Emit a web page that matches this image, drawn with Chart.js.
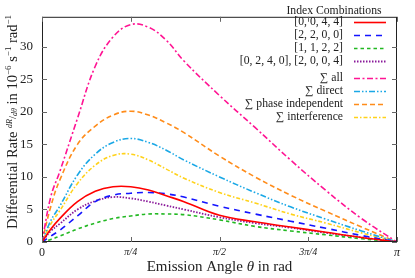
<!DOCTYPE html>
<html>
<head>
<meta charset="utf-8">
<script src="https://cdn.jsdelivr.net/npm/chart.js@4.4.1/dist/chart.umd.min.js"></script>
<style>
  html, body { margin: 0; padding: 0; background: #fff; }
  #wrap { width: 415px; height: 278px; position: relative; }
</style>
</head>
<body>
<div id="wrap"><canvas id="chart" width="415" height="278"></canvas></div>
<script>
// ── data (theta in units of pi, rates in 1e-6 s^-1 rad^-1) ───────────────────
const thetaPi = [0, 0.025, 0.05, 0.1, 0.15, 0.2, 0.25, 0.3, 0.35, 0.4, 0.5, 0.6, 0.7, 0.8, 0.9, 1.0];

const rate0044   = [0, 2.0, 3.6, 6.2, 7.8, 8.5, 8.5, 8.0, 7.1, 6.2, 4.1, 3.1, 2.3, 1.5, 0.7, 0];
const rate2200   = [0, 0.9, 1.8, 4.0, 6.2, 7.2, 7.5, 7.6, 7.4, 6.9, 5.5, 4.3, 3.2, 2.1, 1.0, 0];
const rate1122   = [0, 0.4, 0.9, 2.0, 2.9, 3.6, 4.0, 4.3, 4.3, 4.2, 3.4, 2.4, 1.7, 1.1, 0.5, 0];
const rate0240   = [0, 1.7, 2.8, 5.0, 6.3, 6.9, 6.7, 6.2, 5.6, 5.0, 3.8, 2.9, 2.2, 1.4, 0.7, 0];
const sumAll     = [0, 7.0, 10.8, 19.0, 27.0, 31.5, 33.4, 33.0, 31.0, 27.8, 22.5, 17.6, 12.6, 7.9, 3.6, 0];
const sumDirect  = [0, 3.3, 5.5, 10.3, 13.5, 15.3, 15.9, 15.3, 14.1, 12.6, 10.0, 7.6, 5.4, 3.5, 1.7, 0];
const sumPhase   = [0, 5.5, 9.5, 15.0, 17.8, 19.5, 20.1, 19.5, 18.3, 16.8, 13.2, 10.0, 7.2, 4.7, 2.3, 0];
const sumInterf  = [0, 2.8, 4.8, 9.0, 11.8, 13.3, 13.5, 12.6, 11.2, 9.8, 7.6, 6.0, 4.3, 2.9, 1.4, 0];

const xTickPi    = [0, 0.25, 0.5, 0.75, 1];
const xTickText  = ["0", "\u03c0/4", "\u03c0/2", "3\u03c0/4", "\u03c0"];
const yTicks     = [0, 5, 10, 15, 20, 25, 30];

const C = {
    red: "#ff0000", blue: "#1414ff", green: "#22b822", purple: "#8a1a9a",
    magenta: "#ff1493", cyan: "#1aa8e6", orange: "#ff8c1a", yellow: "#ffd21a",
    frame: "#222",
};
const SERIF = "'Liberation Serif', 'DejaVu Serif', serif";

function series(label, data, color, dash, width) {
    return {
        label,
        data: data.map((v, i) => ({ x: thetaPi[i] * Math.PI, y: v })),
        borderColor: color,
        borderDash: dash,
        borderWidth: width || 1.6,
        pointRadius: 0,
        tension: 0.4,
        fill: false,
    };
}

const datasets = [
    series("[0, 0, 4, 4]",               rate0044,  C.red,     []),
    series("[2, 2, 0, 0]",               rate2200,  C.blue,    [6, 5]),
    series("[1, 1, 2, 2]",               rate1122,  C.green,   [3.5, 3]),
    series("[0, 2, 4, 0], [2, 0, 0, 4]", rate0240,  C.purple,  [1.5, 1.5], 1.8),
    series("\u2211 all",                 sumAll,    C.magenta, [6, 2.5, 2, 2.5]),
    series("\u2211 direct",              sumDirect, C.cyan,    [6, 2, 1.5, 2, 1.5, 2]),
    series("\u2211 phase independent",   sumPhase,  C.orange,  [5, 3]),
    series("\u2211 interference",        sumInterf, C.yellow,  [4, 2, 1.5, 2]),
];

// ── frame, mirrored inward ticks, titles, legend ─────────────────────────────
const decor = {
    id: "decor",
    afterDraw(chart) {
        const { ctx, chartArea: a, scales } = chart;
        ctx.save();
        ctx.strokeStyle = C.frame;
        ctx.lineWidth = 1;
        ctx.strokeRect(a.left + 0.5, a.top + 0.5, a.right - a.left - 1, a.bottom - a.top - 1);

        ctx.strokeStyle = "#666";
        scales.x.ticks.forEach((t) => {
            const px = Math.round(scales.x.getPixelForValue(t.value)) + 0.5;
            ctx.beginPath();
            ctx.moveTo(px, a.bottom); ctx.lineTo(px, a.bottom - 5);
            ctx.moveTo(px, a.top);    ctx.lineTo(px, a.top + 5);
            ctx.stroke();
        });
        scales.y.ticks.forEach((t) => {
            const py = Math.round(scales.y.getPixelForValue(t.value)) + 0.5;
            ctx.beginPath();
            ctx.moveTo(a.left, py);  ctx.lineTo(a.left + 5, py);
            ctx.moveTo(a.right, py); ctx.lineTo(a.right - 5, py);
            ctx.stroke();
        });

        // x title
        ctx.fillStyle = "#222";
        ctx.textBaseline = "alphabetic";
        const xParts = [
            { t: "Emission Angle ", f: "15px " + SERIF },
            { t: "\u03b8", f: "italic 15px " + SERIF },
            { t: " in rad", f: "15px " + SERIF },
        ];
        let w = 0;
        xParts.forEach((p) => { ctx.font = p.f; w += ctx.measureText(p.t).width; });
        let cx = (a.left + a.right) / 2 - w / 2;
        xParts.forEach((p) => { ctx.font = p.f; ctx.fillText(p.t, cx, 271); cx += ctx.measureText(p.t).width; });

        // y title, rotated
        const yParts = [
            { t: "Differential Rate ", f: "14.5px " + SERIF, dy: 0 },
            { t: "dR", f: "italic 8px " + SERIF, dy: -5 },
            { t: "/", f: "11px " + SERIF, dy: -1 },
            { t: "d\u03b8", f: "italic 8px " + SERIF, dy: 0 },
            { t: " in 10", f: "14.5px " + SERIF, dy: 0 },
            { t: "\u22126", f: "9px " + SERIF, dy: -6 },
            { t: " s", f: "14.5px " + SERIF, dy: 0 },
            { t: "\u22121", f: "9px " + SERIF, dy: -6 },
            { t: " rad", f: "14.5px " + SERIF, dy: 0 },
            { t: "\u22121", f: "9px " + SERIF, dy: -6 },
        ];
        w = 0;
        yParts.forEach((p) => { ctx.font = p.f; w += ctx.measureText(p.t).width; });
        ctx.translate(17, 122);
        ctx.rotate(-Math.PI / 2);
        cx = -w / 2;
        yParts.forEach((p) => { ctx.font = p.f; ctx.fillText(p.t, cx, p.dy); cx += ctx.measureText(p.t).width; });
        ctx.setTransform(1, 0, 0, 1, 0, 0);

        // legend
        ctx.font = "11.7px " + SERIF;
        ctx.textAlign = "center";
        ctx.textBaseline = "middle";
        ctx.fillText("Index Combinations", 334, 11);
        ctx.textAlign = "right";
        const rowsY = [22, 35, 48, 61, 78, 91, 104, 117];
        chart.data.datasets.forEach((ds, i) => {
            const y = rowsY[i];
            ctx.fillStyle = "#222";
            ctx.fillText(ds.label, 343, y);
            ctx.strokeStyle = ds.borderColor;
            ctx.lineWidth = ds.borderWidth;
            ctx.setLineDash(ds.borderDash);
            ctx.beginPath();
            ctx.moveTo(354, y + 0.5); ctx.lineTo(386, y + 0.5);
            ctx.stroke();
        });
        ctx.restore();
    },
};

new Chart(document.getElementById("chart").getContext("2d"), {
    type: "line",
    data: { datasets },
    plugins: [decor],
    options: {
        responsive: false,
        animation: false,
        events: [],
        layout: { padding: { top: 1, right: 18, left: 0, bottom: 0 } },
        plugins: { legend: { display: false }, tooltip: { enabled: false } },
        scales: {
            x: {
                type: "linear",
                min: 0,
                max: Math.PI,
                afterBuildTicks: (s) => { s.ticks = xTickPi.map((v) => ({ value: v * Math.PI })); },
                afterFit: (s) => { s.height = 36; },
                grid: { display: false, drawTicks: false },
                border: { display: false },
                ticks: {
                    padding: 4,
                    color: "#222",
                    maxRotation: 0,
                    autoSkip: false,
                    font: (c) => ({ family: SERIF, size: (c.index === 0 || c.index === 4) ? 12 : 10, style: (c.index === 0) ? "normal" : "italic" }),
                    callback: (v, i) => xTickText[i],
                },
            },
            y: {
                min: 0,
                max: 34.6,
                afterBuildTicks: (s) => { s.ticks = yTicks.map((v) => ({ value: v })); },
                afterFit: (s) => { s.width = 42; },
                grid: { display: false, drawTicks: false },
                border: { display: false },
                ticks: { padding: 9, color: "#222", font: { family: SERIF, size: 13 }, callback: (v) => String(v) },
            },
        },
    },
});
</script>
</body>
</html>
